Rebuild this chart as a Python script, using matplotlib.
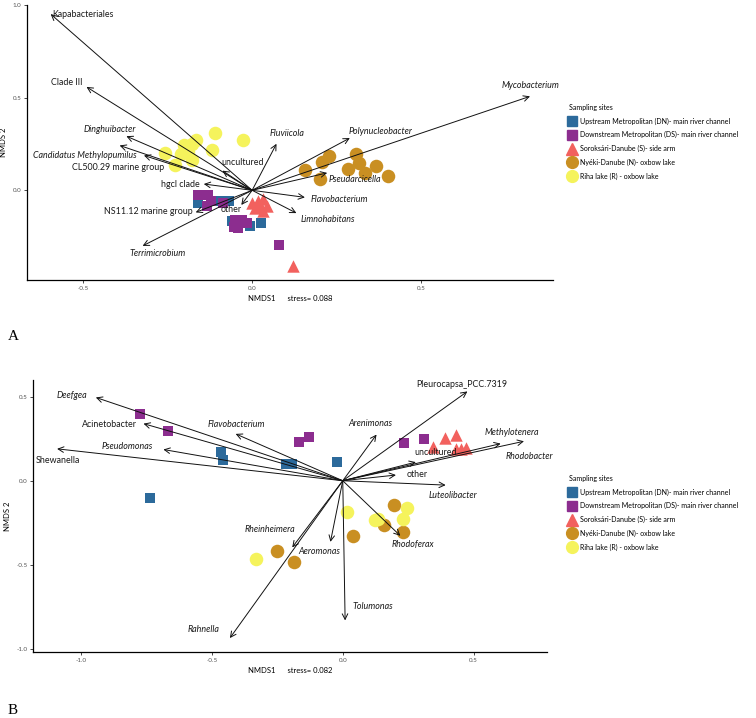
import matplotlib.pyplot as plt
from matplotlib.lines import Line2D

plt.rcParams['font.family'] = ['Lato', 'DejaVu Sans']

# ---- panel A data ----
a_names = ['Kapabacteriales', 'Clade III', 'Dinghuibacter', 'Candidatus Methylopumilus',
           'CL500.29 marine group', 'hgcl clade', 'NS11.12 marine group', 'Terrimicrobium',
           'uncultured', 'other', 'Fluviicola', 'Polynucleobacter', 'Mycobacterium',
           'Pseudarcicella', 'Flavobacterium', 'Limnohabitans']
a_vx = [-0.596, -0.490, -0.372, -0.392, -0.320, -0.143, -0.167, -0.324,
        -0.088, -0.032, 0.072, 0.289, 0.822, 0.222, 0.156, 0.131]
a_vy = [0.951, 0.558, 0.292, 0.242, 0.188, 0.034, -0.119, -0.300,
        0.106, -0.079, 0.251, 0.282, 0.507, 0.094, -0.038, -0.123]
a_italic = [False, False, True, True, False, False, False, True,
            False, False, True, True, True, True, True, True]

a_up_x = [-0.159, -0.097, -0.067, -0.060, -0.006, 0.026, -0.026, -0.159]
a_up_y = [-0.067, -0.058, -0.058, -0.167, -0.194, -0.176, -0.176, -0.027]
a_down_x = [-0.159, -0.132, -0.122, -0.134, -0.087, -0.050, -0.053, -0.031, -0.016, -0.041, 0.079]
a_down_y = [-0.027, -0.027, -0.058, -0.085, -0.067, -0.158, -0.197, -0.161, -0.176, -0.203, -0.293]
a_sor_x = [-0.001, 0.016, 0.033, 0.024, 0.043, 0.009, 0.033, 0.120]
a_sor_y = [-0.067, -0.058, -0.049, -0.085, -0.085, -0.094, -0.112, -0.411]
a_nye_x = [0.157, 0.206, 0.228, 0.201, 0.308, 0.283, 0.315, 0.334, 0.367, 0.403]
a_nye_y = [0.110, 0.154, 0.183, 0.060, 0.196, 0.114, 0.145, 0.092, 0.132, 0.078]
a_riha_x = [-0.258, -0.211, -0.201, -0.177, -0.165, -0.227, -0.179, -0.110, -0.026, -0.119, -0.189]
a_riha_y = [0.202, 0.197, 0.247, 0.249, 0.269, 0.139, 0.164, 0.307, 0.271, 0.215, 0.206]

# ---- panel B data ----
b_names = ['Deefgea', 'Acinetobacter', 'Flavobacterium', 'Pseudomonas', 'Shewanella',
           'Rheinheimera', 'Aeromonas', 'Rahnella', 'Tolumonas', 'Arenimonas',
           'Pleurocapsa_PCC.7319', 'Methylotenera', 'Rhodobacter', 'uncultured',
           'other', 'Luteolibacter', 'Rhodoferax']
b_vx = [-0.943, -0.761, -0.409, -0.685, -1.091, -0.193, -0.047, -0.431, 0.009, 0.129,
        0.476, 0.603, 0.692, 0.279, 0.203, 0.393, 0.220]
b_vy = [0.496, 0.340, 0.279, 0.186, 0.190, -0.397, -0.364, -0.937, -0.832, 0.275,
        0.532, 0.221, 0.235, 0.111, 0.034, -0.026, -0.328]
b_italic = [True, False, True, True, False, True, True, True, True, True,
            False, True, True, False, False, True, True]

b_up_x = [-0.466, -0.457, -0.216, -0.194, -0.022, -0.736]
b_up_y = [0.170, 0.123, 0.097, 0.101, 0.111, -0.101]
b_down_x = [-0.774, -0.669, -0.169, -0.129, 0.235, 0.311]
b_down_y = [0.397, 0.298, 0.229, 0.259, 0.225, 0.249]
b_sor_x = [0.343, 0.390, 0.434, 0.431, 0.450, 0.470]
b_sor_y = [0.202, 0.255, 0.275, 0.190, 0.190, 0.196]
b_nye_x = [-0.250, -0.188, 0.038, 0.197, 0.156, 0.231]
b_nye_y = [-0.417, -0.482, -0.332, -0.146, -0.265, -0.308]
b_riha_x = [0.016, -0.330, 0.136, 0.247, 0.231, 0.125]
b_riha_y = [-0.184, -0.466, -0.229, -0.160, -0.225, -0.232]

site_labels = ['Upstream Metropolitan (DN)- main river channel',
               'Downstream Metropolitan (DS)- main river channel',
               'Soroksári-Danube (S)- side arm',
               'Nyéki-Danube (N)- oxbow lake',
               'Riha lake (R) - oxbow lake']

# label placement (data coords), same order as the vectors
a_lab_x = [-0.59, -0.549, -0.421, -0.495, -0.396, -0.211, -0.306, -0.281,
           -0.027, -0.061, 0.104, 0.381, 0.822, 0.303, 0.259, 0.225]
a_lab_y = [0.951, 0.581, 0.327, 0.188, 0.121, 0.031, -0.114, -0.339,
           0.148, -0.106, 0.305, 0.319, 0.563, 0.056, -0.052, -0.155]
a_lab_ha = ['left'] + ['center'] * 15
b_lab_x = [-1.034, -0.891, -0.406, -0.822, -1.089, -0.277, -0.091, -0.530, 0.114, 0.104,
           0.454, 0.647, 0.711, 0.355, 0.283, 0.419, 0.269]
b_lab_y = [0.508, 0.332, 0.332, 0.204, 0.121, -0.289, -0.421, -0.887, -0.747, 0.338,
           0.575, 0.285, 0.142, 0.170, 0.036, -0.087, -0.377]

colors = ['#2c6a9b', '#8c2d8f', '#f2615e', '#c98f22', '#f5f35c']
markers = ['s', 's', '^', 'o', 'o']
sizes = [62, 62, 80, 95, 95]


def panel(ax, pts, names, vx, vy, italic, lx, ly, has, xlim, ylim, xt, yt, stress):
    for (px, py), c, m, s in zip(pts, colors, markers, sizes):
        ax.scatter(px, py, c=c, marker=m, s=s, linewidths=0, zorder=2)
    for i, n in enumerate(names):
        ax.annotate('', xy=(vx[i], vy[i]), xytext=(0, 0),
                    arrowprops=dict(arrowstyle='->,head_length=0.4,head_width=0.2',
                                    color='#111111', lw=0.7, shrinkA=0, shrinkB=0),
                    zorder=3)
        ax.text(lx[i], ly[i], n, ha=has[i], va='center', fontsize=6.4,
                style='italic' if italic[i] else 'normal', color='#1a1a1a', zorder=4)
    ax.set_xlim(*xlim)
    ax.set_ylim(*ylim)
    ax.set_xticks(xt)
    ax.set_yticks(yt)
    ax.set_xticklabels([f'{v:.1f}' for v in xt])
    ax.set_yticklabels([f'{v:.1f}' for v in yt])
    ax.tick_params(labelsize=4.5, labelcolor='#555555', length=2, width=0.5, pad=2)
    for sp in ['top', 'right']:
        ax.spines[sp].set_visible(False)
    for sp in ['left', 'bottom']:
        ax.spines[sp].set_linewidth(0.9)
    ax.set_xlabel(f'NMDS1      stress= {stress}', fontsize=5.5, labelpad=3)
    ax.set_ylabel('NMDS 2', fontsize=5.5, labelpad=4)


fig = plt.figure(figsize=(7.56, 7.18), dpi=100)
ax1 = fig.add_axes([27 / 756, 1 - 280 / 718, 526 / 756, 275 / 718])
ax2 = fig.add_axes([33 / 756, 1 - 652 / 718, 514 / 756, 272 / 718])

panel(ax1, [(a_up_x, a_up_y), (a_down_x, a_down_y), (a_sor_x, a_sor_y),
            (a_nye_x, a_nye_y), (a_riha_x, a_riha_y)],
      a_names, a_vx, a_vy, a_italic, a_lab_x, a_lab_y, a_lab_ha,
      (-0.666, 0.89), (-0.484, 1.0), [-0.5, 0.0, 0.5], [0.0, 0.5, 1.0], '0.088')
panel(ax2, [(b_up_x, b_up_y), (b_down_x, b_down_y), (b_sor_x, b_sor_y),
            (b_nye_x, b_nye_y), (b_riha_x, b_riha_y)],
      b_names, b_vx, b_vy, b_italic, b_lab_x, b_lab_y, ['center'] * len(b_names),
      (-1.183, 0.78), (-1.02, 0.60), [-1.0, -0.5, 0.0, 0.5], [-1.0, -0.5, 0.0, 0.5], '0.082')

handles = [Line2D([], [], ls='', marker=m, color=c, markersize=8.5 if m != 's' else 7)
           for c, m in zip(colors, markers)]
for top in [99, 470]:
    leg = fig.legend(handles, site_labels, loc='upper left',
                     bbox_to_anchor=(564 / 756, 1 - top / 718), frameon=False,
                     fontsize=5, title='Sampling sites', title_fontsize=5,
                     labelspacing=0.95, handlelength=1.0, handletextpad=0.6,
                     borderpad=0.2)
    leg._legend_box.align = 'left'

fig.text(8 / 756, 1 - 336 / 718, 'A', fontsize=11, family='Liberation Serif', va='center')
fig.text(8 / 756, 1 - 711 / 718, 'B', fontsize=11, family='Liberation Serif', va='center')

fig.savefig('out.png', dpi=100)
